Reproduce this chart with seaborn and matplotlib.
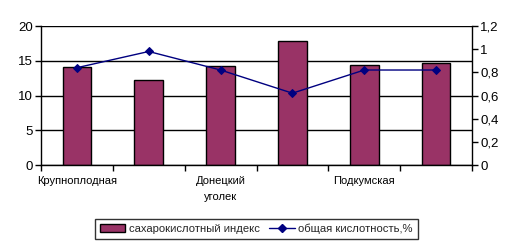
import matplotlib
matplotlib.use("Agg")
import matplotlib.pyplot as plt
import seaborn as sns
import pandas as pd
import numpy as np
from matplotlib.patches import Patch
from matplotlib.lines import Line2D

categories = ["Крупноплодная", " ", "Донецкий\nуголек", "  ", "Подкумская", "   "]
sugar_acid_index = [14.1, 12.3, 14.3, 17.8, 14.4, 14.7]
total_acidity = [0.84, 0.98, 0.82, 0.62, 0.82, 0.82]

sns.set_theme(style="white")
plt.rcParams['font.family'] = ['Liberation Sans', 'DejaVu Sans']

df = pd.DataFrame({"cat": categories, "idx": sugar_acid_index, "acid": total_acidity})

W, H = 518, 249
fig = plt.figure(figsize=(W/100, H/100), dpi=100)
ax = fig.add_axes([41/W, 1-165/H, (472-41)/W, (165-26)/H])

bar_color = "#993366"
line_color = "#000080"

sns.barplot(data=df, x="cat", y="idx", ax=ax, color=bar_color, width=0.4,
            edgecolor="black", linewidth=1, saturation=1)
ax.set_xlim(-0.5, 5.5)
ax.set_ylim(0, 20)
ax.set_yticks([0, 5, 10, 15, 20])
ax.set_xlabel("")
ax.set_ylabel("")
ax.yaxis.grid(True, color="black", linewidth=1)
ax.set_axisbelow(True)
for s in ["top", "right"]:
    ax.spines[s].set_visible(False)
for s in ["left", "bottom"]:
    ax.spines[s].set_color("black")
    ax.spines[s].set_linewidth(1)
ax.tick_params(axis="y", direction="out", length=4, width=1, color="black",
               labelsize=9.5, left=True, pad=2, labelcolor="black")
ax.tick_params(axis="x", which="major", length=0, labelsize=8, pad=8, labelcolor="black")
for t in ax.get_xticklabels():
    t.set_linespacing(1.7)
ax.set_xticks(np.arange(-0.5, 6.0, 1.0), minor=True)
ax.tick_params(axis="x", which="minor", direction="out", length=4, width=1, color="black", bottom=True)

ax2 = ax.twinx()
sns.lineplot(x=np.arange(len(categories)), y=total_acidity, ax=ax2, color=line_color,
             marker="D", markersize=4, markeredgecolor=line_color, linewidth=1)
ax2.set_ylim(0, 1.2)
ax2.set_yticks([0, 0.2, 0.4, 0.6, 0.8, 1.0, 1.2])
ax2.set_yticklabels(["0", "0,2", "0,4", "0,6", "0,8", "1", "1,2"])
for s in ["top", "left", "bottom"]:
    ax2.spines[s].set_visible(False)
ax2.spines["right"].set_color("black")
ax2.spines["right"].set_linewidth(1)
ax2.tick_params(axis="y", direction="out", length=4, width=1, color="black",
                labelsize=9.5, right=True, pad=2, labelcolor="black")
ax2.set_xlim(-0.5, 5.5)
ax2.grid(False)

handles = [Patch(facecolor=bar_color, edgecolor="black", linewidth=1),
           Line2D([0], [0], color=line_color, marker="D", markersize=4, linewidth=1)]
labels = ["сахарокислотный индекс", "общая кислотность,%"]
leg = fig.legend(handles, labels, loc="center", bbox_to_anchor=(256/W, 1-229/H),
                 ncol=2, frameon=True, fancybox=False, shadow=False, fontsize=8.1,
                 handlelength=2.3, handletextpad=0.3, columnspacing=0.8,
                 borderpad=0.45, borderaxespad=0, edgecolor="black")
leg.get_frame().set_linewidth(1)

fig.savefig("out.png", dpi=100, facecolor="white")
